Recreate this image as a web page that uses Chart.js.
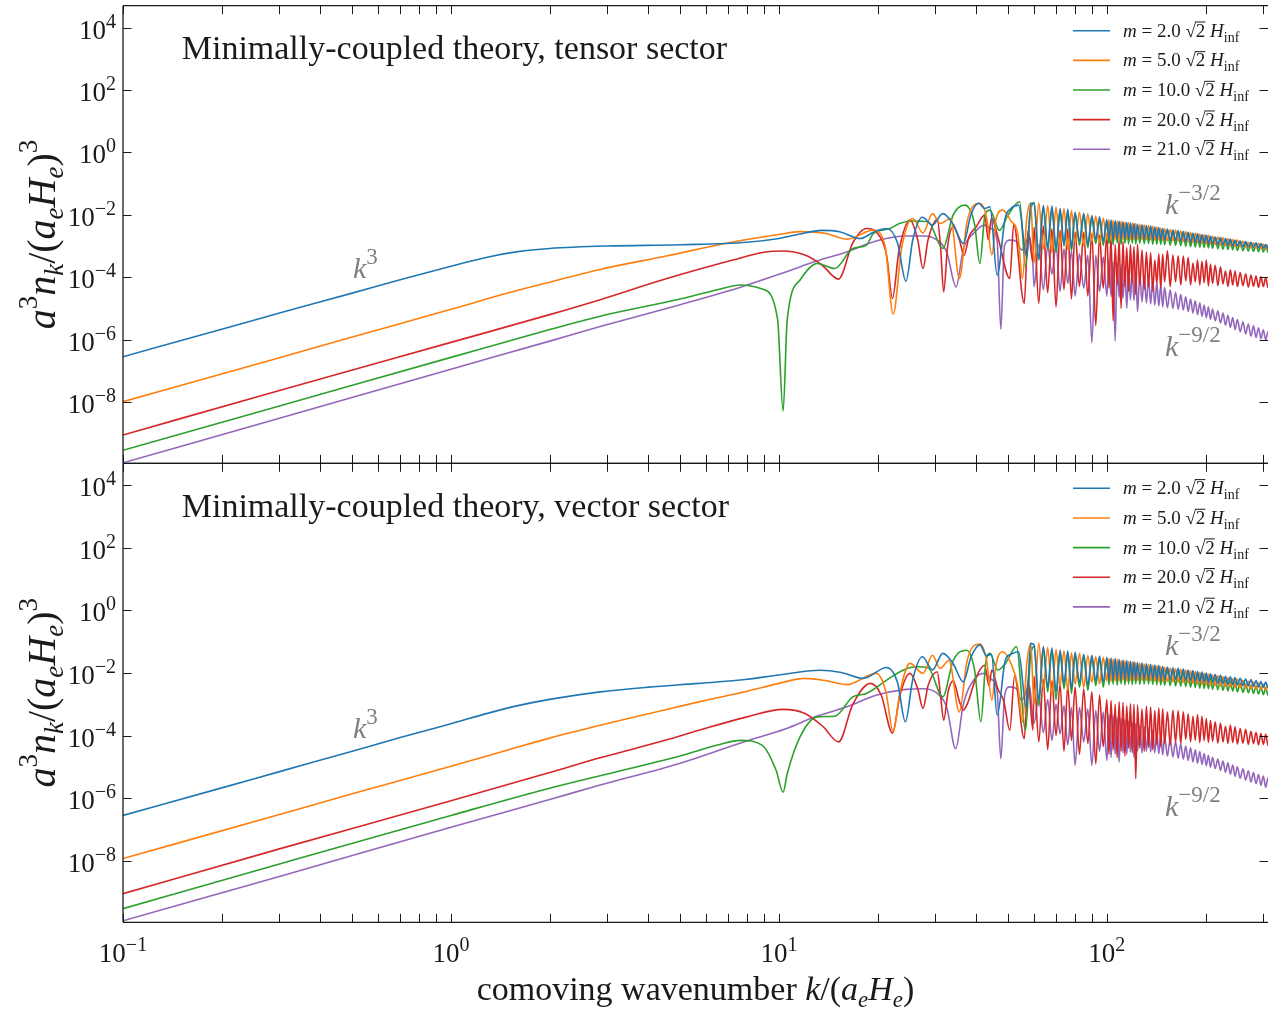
<!DOCTYPE html>
<html>
<head>
<meta charset="utf-8">
<script src="https://cdn.jsdelivr.net/npm/chart.js@4"></script>
<style>
  html, body { margin: 0; padding: 0; background: #fff; }
  #wrap { position: relative; width: 1268px; height: 1010px; }
  #wrap canvas { position: absolute; left: 0; top: 0; }
</style>
</head>
<body>
<div id="wrap">
  <canvas id="vec" width="1268" height="1010"></canvas>
  <canvas id="ten" width="1268" height="1010"></canvas>
</div>
<script>
// values: k, and log10 of a^3 n_k/(a_e H_e)^3
const masses = ['2.0', '5.0', '10.0', '20.0', '21.0'];
const colors = ['#1f77b4', '#ff7f0e', '#2ca02c', '#d62728', '#9467bd'];
const yTickExp = [-8, -6, -4, -2, 0, 2, 4];
const xTickExp = [-1, 0, 1, 2];

// tensor sector, smooth part + first oscillations  [k, log10 y]
const tLo0 = [[0.1,-6.55],[0.2,-5.67],[0.3,-5.15],[0.5,-4.51],[0.7,-4.08],[1,-3.65],[1.3,-3.35],[1.6,-3.18],[2,-3.08],[3,-3.0],[5,-2.96],[8,-2.88],[10,-2.76],[12,-2.58],[13.5,-2.5],[15.3,-2.54],[17.7,-2.76],[19.5,-2.55],[21.3,-2.44],[23,-2.9],[24.4,-4.13],[25.6,-2.8],[27.4,-2.08],[29.4,-2.33],[31.6,-1.96],[34,-2.3],[36.5,-2.92],[38.5,-2.0],[40.6,-1.63],[42.5,-1.8],[44,-1.74],[46.3,-3.93],[49,-2.1],[51,-1.8],[53.8,-1.69],[57,-3.35],[58.6,-1.63]];
const tLo1 = [[0.1,-7.99],[0.3,-6.58],[0.5,-5.92],[1,-5.03],[1.5,-4.5],[2,-4.16],[2.85,-3.75],[4.53,-3.32],[7.24,-2.87],[10,-2.63],[11.6,-2.54],[13.9,-2.6],[16.2,-2.78],[19.4,-2.49],[21.1,-3.03],[22.3,-5.19],[23.7,-3.03],[25.6,-2.12],[27.5,-2.58],[29.4,-1.96],[31,-2.28],[33.4,-2.12],[35.5,-4.04],[37.5,-2.2],[41,-1.63],[43,-2.1],[44.6,-3.29],[46,-2.1],[48.2,-1.85],[51,-2.2],[53.5,-2.6],[55.3,-4.04],[57,-2.1],[58.6,-1.63]];
const tLo2 = [[0.1,-9.55],[0.3,-8.13],[1,-6.57],[2,-5.68],[2.85,-5.25],[5,-4.7],[6.5,-4.4],[7.64,-4.25],[8.9,-4.38],[9.9,-5.32],[10.3,-8.29],[10.6,-5.37],[11.6,-4.09],[13.1,-3.56],[14.8,-3.72],[16.8,-3.08],[18.5,-2.97],[19.4,-2.6],[21.7,-2.45],[23.3,-2.28],[25.5,-2.2],[28.5,-2.22],[31.6,-3.08],[34,-2.0],[36.9,-1.69],[39.5,-2.3],[41,-3.56],[42.5,-2.0],[44,-1.85],[47,-2.5],[50,-2.0],[54.2,-1.58],[56.5,-3.67],[58.5,-1.9]];
const tLo3 = [[0.1,-9.06],[0.3,-7.63],[1,-6.09],[2,-5.2],[2.85,-4.72],[4.53,-4.05],[7.24,-3.45],[9,-3.2],[10.3,-3.16],[12,-3.29],[13.5,-3.6],[15.2,-4.06],[16.8,-2.9],[18.5,-2.44],[20,-2.6],[21.3,-3.3],[22.2,-4.68],[23.2,-3.2],[25.1,-2.17],[26.5,-2.8],[27.5,-3.72],[28.5,-2.8],[30.4,-2.15],[31.1,-3.0],[31.8,-4.47],[32.7,-3.0],[34,-2.38],[35.5,-2.8],[36.7,-3.3],[38,-2.7],[40,-2.38],[42.4,-2.01],[43.5,-2.8],[44.5,-2.1],[46.5,-2.7],[50.6,-4.04],[52,-2.3],[56,-4.84],[57.5,-2.5],[59.5,-3.5]];
const tLo4 = [[0.1,-9.95],[0.3,-8.52],[1,-6.95],[2,-6.05],[2.85,-5.58],[5,-4.88],[7.64,-4.32],[10.5,-3.83],[12.9,-3.5],[16.1,-3.19],[19.8,-2.84],[24.4,-2.68],[27.5,-2.68],[30.4,-2.81],[32.5,-3.2],[34.7,-4.31],[36.5,-3.1],[39.2,-2.6],[42.3,-2.33],[44.5,-2.45],[46.3,-2.85],[47.5,-5.67],[48.7,-3.0],[50.6,-2.81],[53,-2.85],[55,-3.13],[58.1,-2.7],[59.5,-3.6]];

// vector sector, smooth part + first oscillations  [k, log10 y]
const vLo0 = [[0.1,-6.55],[0.2,-5.67],[0.3,-5.15],[0.5,-4.5],[0.7,-4.06],[1,-3.62],[1.3,-3.28],[1.6,-3.04],[2,-2.84],[2.85,-2.6],[4,-2.45],[5.7,-2.33],[8,-2.2],[10,-2.06],[13.3,-1.91],[15.5,-1.98],[18.1,-2.17],[21.3,-1.82],[23,-2.3],[24.3,-3.56],[25.6,-2.2],[27.4,-1.48],[29.4,-1.9],[31.6,-1.37],[34,-1.7],[36.5,-2.28],[38.5,-1.5],[41,-1.1],[43,-1.45],[44.5,-1.4],[46.3,-3.35],[49,-1.6],[51,-1.4],[53.8,-1.32],[56.8,-3.1],[58.6,-1.05]];
const vLo1 = [[0.1,-7.93],[0.3,-6.52],[0.5,-5.86],[1,-4.98],[1.5,-4.45],[2,-4.08],[2.85,-3.67],[4,-3.3],[5.7,-2.92],[8,-2.58],[10,-2.33],[12,-2.17],[14,-2.25],[16.1,-2.37],[19.8,-2.01],[21.2,-2.6],[22.3,-3.88],[23.4,-2.6],[25.1,-1.69],[27.5,-2.01],[29.4,-1.43],[31,-1.85],[33,-1.6],[35.5,-3.24],[37.5,-1.6],[41,-1.07],[43,-1.6],[44.6,-2.87],[46,-1.7],[48.2,-1.32],[51,-1.7],[53.5,-2.4],[55.3,-3.56],[57,-1.7],[58.6,-1.05]];
const vLo2 = [[0.1,-9.53],[0.3,-8.1],[1,-6.55],[2,-5.68],[2.85,-5.28],[5,-4.65],[6.5,-4.3],[7.64,-4.15],[8.9,-4.31],[9.8,-5.1],[10.3,-5.81],[10.6,-5.22],[11.6,-4.04],[13.1,-3.4],[14.8,-3.38],[16.8,-2.76],[18.5,-2.65],[21.7,-2.17],[24,-1.9],[26.3,-1.8],[28.5,-1.83],[31.6,-2.76],[34,-1.6],[37.3,-1.27],[39.5,-1.9],[41.3,-3.56],[42.7,-1.7],[44,-1.37],[46.5,-1.9],[49,-1.7],[53,-1.16],[56.5,-3.83],[58.5,-1.5]];
const vLo3 = [[0.1,-9.05],[0.3,-7.62],[1,-6.08],[2,-5.18],[2.85,-4.71],[4.5,-4.15],[5.7,-3.83],[8,-3.4],[10.3,-3.16],[12,-3.29],[13.6,-3.7],[15.2,-4.2],[16.8,-3.0],[19,-2.33],[20.5,-2.7],[22.2,-3.92],[23.4,-2.7],[25.1,-2.01],[26.5,-2.5],[27.5,-3.13],[28.5,-2.4],[30.4,-1.96],[31.1,-2.7],[31.8,-3.51],[32.8,-2.6],[34,-2.25],[35.5,-2.9],[36.5,-3.19],[37.5,-3.0],[40,-2.12],[42.4,-1.75],[43.7,-2.4],[44.6,-1.9],[46.5,-2.5],[48.5,-2.9],[50.6,-3.83],[52.3,-2.1],[56,-4.1],[57.5,-2.2],[59.5,-3.83]];
const vLo4 = [[0.1,-9.92],[0.3,-8.5],[1,-6.93],[2,-6.04],[2.85,-5.58],[5,-4.88],[7.8,-4.2],[10.5,-3.78],[12.9,-3.4],[16.1,-3.08],[19.8,-2.71],[24.4,-2.52],[27.5,-2.5],[30.4,-2.65],[32.5,-3.1],[34.6,-4.42],[36.5,-3.0],[40,-2.12],[42.3,-2.01],[44.5,-2.2],[46.3,-2.6],[47.5,-4.74],[48.8,-2.7],[50.6,-2.44],[53,-2.5],[55,-2.87],[58.1,-2.4],[59.5,-3.51]];

// dense oscillation region: k samples, then alternating crests / troughs (log10 y)
const kHi = [60,62,64,66,68,70,72,74,76,78,80,82.5,85,87.5,90,92.5,95,97.5,
  100,101.5,103,104.5,106,107.5,109,110.5,112,113.5,115,116.5,118,119.5,121,122.5,124,
  126,128,130,132,134,136,138,140,142,144,146,148,150,
  153,156,159,162,165,168,171,174,177,180,183,186,189,192,195,198,201,204,207,210,
  214,218,222,226,230,234,238,242,246,250,
  255,260,265,270,275,280,285,290,295,300,305,310,315];

const tHi0 = [-1.65,-3.40,-1.70,-3.05,-1.72,-3.10,-1.80,-2.95,-1.82,-3.05,-1.92,-2.85,-1.95,-2.95,-2.02,-2.80,-2.06,-2.85,
  -2.15,-2.75,-2.17,-2.80,-2.19,-2.74,-2.21,-2.78,-2.23,-2.75,-2.25,-2.77,-2.26,-2.74,-2.28,-2.78,-2.30,-2.75,-2.32,-2.77,-2.34,-2.76,-2.36,-2.78,-2.39,-2.78,-2.41,-2.80,-2.44,-2.80,
  -2.46,-2.82,-2.49,-2.82,-2.51,-2.84,-2.54,-2.85,-2.56,-2.87,-2.59,-2.88,-2.61,-2.90,-2.64,-2.90,-2.66,-2.92,-2.69,-2.93,
  -2.71,-2.95,-2.73,-2.96,-2.76,-2.98,-2.78,-2.99,-2.81,-3.00,
  -2.83,-3.02,-2.86,-3.03,-2.88,-3.04,-2.90,-3.06,-2.92,-3.07,-2.95,-3.09,-2.97];
const tHi1 = [-3.55,-1.62,-3.10,-1.70,-3.20,-1.76,-2.98,-1.80,-3.10,-1.86,-2.90,-1.92,-3.00,-1.97,-2.85,-2.04,-2.90,-2.10,
  -2.80,-2.16,-2.82,-2.18,-2.79,-2.20,-2.81,-2.21,-2.78,-2.23,-2.80,-2.25,-2.78,-2.27,-2.80,-2.28,-2.78,-2.30,-2.80,-2.32,-2.79,-2.34,-2.80,-2.37,-2.81,-2.39,-2.81,-2.42,-2.82,-2.44,
  -2.83,-2.47,-2.83,-2.49,-2.84,-2.52,-2.85,-2.54,-2.86,-2.57,-2.88,-2.59,-2.89,-2.62,-2.91,-2.64,-2.92,-2.66,-2.93,-2.69,
  -2.95,-2.71,-2.97,-2.74,-2.98,-2.76,-2.99,-2.79,-3.01,-2.81,
  -3.02,-2.84,-3.04,-2.88,-3.06,-2.90,-3.07,-2.92,-3.09,-2.94,-3.10,-2.96,-3.12];
const tHi2 = [-1.60,-3.45,-1.75,-3.10,-1.80,-3.20,-1.88,-3.00,-1.93,-3.15,-1.98,-2.98,-2.05,-3.05,-2.12,-2.92,-2.17,-2.98,
  -2.25,-2.92,-2.26,-2.96,-2.28,-2.90,-2.29,-2.95,-2.31,-2.91,-2.32,-2.94,-2.34,-2.91,-2.35,-2.94,-2.36,-2.91,-2.38,-2.93,-2.39,-2.92,-2.41,-2.94,-2.44,-2.94,-2.47,-2.95,-2.49,-2.96,
  -2.52,-2.97,-2.55,-2.98,-2.57,-2.99,-2.60,-3.01,-2.62,-3.02,-2.65,-3.03,-2.67,-3.04,-2.69,-3.05,-2.72,-3.06,-2.74,-3.07,
  -2.76,-3.09,-2.79,-3.10,-2.81,-3.11,-2.84,-3.12,-2.86,-3.14,
  -2.89,-3.15,-2.91,-3.16,-2.94,-3.17,-2.96,-3.18,-2.98,-3.19,-3.00,-3.20,-3.02];
const tHi3 = [-2.40,-4.84,-2.35,-4.50,-2.45,-4.95,-2.50,-4.40,-2.45,-4.70,-2.55,-4.30,-2.55,-4.60,-2.60,-5.55,-2.65,-4.35,
  -2.62,-4.35,-2.68,-5.40,-2.95,-4.25,-2.79,-5.00,-2.85,-4.30,-3.05,-4.45,-2.96,-4.20,-3.02,-4.55,-2.95,-4.25,-3.13,-4.40,-3.19,-4.30,-3.22,-4.45,-3.45,-4.20,-3.25,-4.35,-3.26,-4.15,
  -3.15,-4.30,-3.29,-4.15,-3.31,-4.25,-3.32,-4.12,-3.36,-4.25,-3.55,-4.15,-3.45,-4.25,-3.49,-4.18,-3.45,-4.28,-3.58,-4.20,
  -3.62,-4.27,-3.67,-4.22,-3.80,-4.30,-3.76,-4.25,-3.80,-4.30,
  -3.85,-4.27,-3.89,-4.32,-3.93,-4.29,-3.96,-4.33,-3.99,-4.30,-4.01,-4.33,-4.04];
const tHi4 = [-4.30,-2.95,-4.40,-3.00,-3.90,-2.95,-4.45,-3.10,-4.20,-3.15,-4.60,-3.25,-4.35,-3.30,-6.10,-3.30,-4.45,-3.35,
  -4.60,-3.43,-4.62,-3.49,-6.05,-3.54,-4.65,-3.60,-4.68,-3.66,-5.00,-3.71,-4.72,-3.77,-4.75,-3.83,-5.10,-3.89,-4.80,-3.94,-4.83,-4.00,-4.86,-4.08,-4.90,-4.16,-4.93,-4.24,-4.95,-4.32,
  -4.98,-4.40,-5.00,-4.48,-5.03,-4.56,-5.05,-4.63,-5.10,-4.70,-5.15,-4.76,-5.20,-4.82,-5.25,-4.89,-5.30,-4.95,-5.35,-5.02,
  -5.40,-5.08,-5.47,-5.15,-5.54,-5.22,-5.61,-5.29,-5.68,-5.36,
  -5.75,-5.43,-5.82,-5.50,-5.89,-5.56,-5.93,-5.62,-5.97,-5.69,-6.01,-5.75,-6.05];

const vHi0 = [-1.10,-2.85,-1.15,-2.45,-1.20,-2.60,-1.27,-2.35,-1.30,-2.50,-1.34,-2.30,-1.40,-2.40,-1.43,-2.25,-1.46,-2.30,
  -1.50,-2.20,-1.52,-2.22,-1.54,-2.19,-1.56,-2.21,-1.58,-2.18,-1.60,-2.20,-1.62,-2.17,-1.64,-2.19,-1.66,-2.17,-1.68,-2.18,-1.70,-2.17,-1.72,-2.18,-1.74,-2.19,-1.76,-2.19,-1.79,-2.20,
  -1.81,-2.21,-1.83,-2.21,-1.85,-2.22,-1.87,-2.23,-1.90,-2.24,-1.92,-2.26,-1.95,-2.27,-1.97,-2.28,-2.00,-2.30,-2.02,-2.31,
  -2.05,-2.33,-2.07,-2.34,-2.10,-2.36,-2.12,-2.37,-2.14,-2.38,
  -2.17,-2.40,-2.19,-2.41,-2.21,-2.43,-2.24,-2.44,-2.27,-2.46,-2.29,-2.47,-2.32];
const vHi1 = [-3.00,-1.05,-2.50,-1.18,-2.70,-1.25,-2.40,-1.30,-2.55,-1.35,-2.35,-1.38,-2.45,-1.44,-2.30,-1.47,-2.35,-1.50,
  -2.25,-1.53,-2.27,-1.55,-2.24,-1.57,-2.26,-1.59,-2.23,-1.61,-2.25,-1.63,-2.23,-1.65,-2.24,-1.67,-2.23,-1.69,-2.24,-1.71,-2.23,-1.73,-2.24,-1.75,-2.25,-1.77,-2.26,-1.79,-2.27,-1.81,
  -2.27,-1.84,-2.28,-1.86,-2.29,-1.88,-2.30,-1.90,-2.31,-1.93,-2.33,-1.95,-2.34,-1.98,-2.36,-2.01,-2.37,-2.04,-2.39,-2.06,
  -2.40,-2.09,-2.41,-2.12,-2.43,-2.15,-2.44,-2.18,-2.45,-2.20,
  -2.47,-2.23,-2.48,-2.26,-2.50,-2.29,-2.51,-2.32,-2.53,-2.35,-2.54,-2.38,-2.56];
const vHi2 = [-1.15,-3.05,-1.22,-2.60,-1.28,-2.85,-1.34,-2.50,-1.38,-2.65,-1.42,-2.45,-1.48,-2.55,-1.52,-2.40,-1.56,-2.45,
  -1.60,-2.38,-1.62,-2.36,-1.64,-2.39,-1.66,-2.35,-1.68,-2.38,-1.70,-2.35,-1.71,-2.37,-1.73,-2.35,-1.75,-2.36,-1.77,-2.35,-1.79,-2.35,-1.81,-2.36,-1.84,-2.37,-1.86,-2.38,-1.88,-2.39,
  -1.91,-2.40,-1.93,-2.41,-1.96,-2.42,-1.98,-2.43,-2.01,-2.45,-2.03,-2.46,-2.06,-2.48,-2.09,-2.49,-2.12,-2.50,-2.14,-2.52,
  -2.17,-2.53,-2.20,-2.55,-2.23,-2.57,-2.26,-2.58,-2.29,-2.60,
  -2.32,-2.62,-2.35,-2.63,-2.39,-2.65,-2.42,-2.67,-2.45,-2.69,-2.47,-2.71,-2.50];
const vHi3 = [-2.10,-4.20,-2.20,-4.45,-2.25,-4.00,-2.35,-4.50,-2.40,-4.15,-2.45,-4.60,-2.50,-4.25,-2.60,-4.90,-2.70,-4.35,
  -2.85,-4.60,-2.88,-4.45,-3.00,-4.70,-2.92,-4.50,-2.94,-4.65,-3.05,-4.40,-2.98,-4.55,-3.00,-5.38,-3.02,-4.40,-3.15,-4.50,-3.06,-4.37,-3.09,-4.45,-3.20,-4.30,-3.12,-4.35,-3.14,-4.25,
  -3.25,-4.30,-3.19,-4.20,-3.21,-4.25,-3.24,-4.12,-3.30,-4.20,-3.38,-4.15,-3.33,-4.22,-3.38,-4.16,-3.45,-4.22,-3.51,-4.18,
  -3.56,-4.24,-3.60,-4.20,-3.70,-4.25,-3.66,-4.22,-3.72,-4.27,
  -3.77,-4.24,-3.80,-4.28,-3.86,-4.26,-3.89,-4.30,-3.93,-4.28,-3.96,-4.31,-3.99];
const vHi4 = [-3.60,-2.70,-3.90,-2.85,-4.15,-3.00,-3.95,-3.05,-4.30,-3.10,-4.95,-3.10,-4.20,-3.15,-4.95,-3.20,-4.50,-3.25,
  -4.79,-3.32,-4.70,-3.36,-4.60,-3.41,-4.85,-3.45,-4.55,-3.49,-4.60,-3.54,-4.52,-3.58,-4.70,-3.62,-4.50,-3.66,-4.55,-3.71,-4.50,-3.75,-4.52,-3.82,-4.55,-3.90,-4.58,-3.97,-4.62,-4.04,
  -4.65,-4.12,-4.68,-4.19,-4.72,-4.26,-4.75,-4.33,-4.79,-4.39,-4.84,-4.45,-4.88,-4.51,-4.92,-4.57,-4.96,-4.63,-5.01,-4.69,
  -5.05,-4.75,-5.11,-4.81,-5.17,-4.87,-5.23,-4.94,-5.30,-5.00,
  -5.36,-5.06,-5.42,-5.12,-5.48,-5.18,-5.54,-5.24,-5.59,-5.29,-5.65,-5.35,-5.70];

const FONT = "'Liberation Serif','DejaVu Serif',serif";

function series(lo, hi) {
  const pts = lo.map(p => ({ x: p[0], y: Math.pow(10, p[1]) }));
  hi.forEach((v, i) => pts.push({ x: kHi[i], y: Math.pow(10, v) }));
  return pts;
}

// text run: t, size, italic, dy, overline
function R(t, s, i, dy, over) { return { t, s, i: !!i, dy: dy || 0, over: !!over }; }

function setFont(ctx, s, i) { ctx.font = (i ? 'italic ' : '') + s + 'px ' + FONT; }

function drawRuns(ctx, x, y, parts, align) {
  let w = 0;
  for (const p of parts) { setFont(ctx, p.s, p.i); w += ctx.measureText(p.t).width; }
  let cx = align === 'right' ? x - w : align === 'center' ? x - w / 2 : x;
  for (const p of parts) {
    setFont(ctx, p.s, p.i);
    const tw = ctx.measureText(p.t).width;
    ctx.fillText(p.t, cx, y + p.dy);
    if (p.over) ctx.fillRect(cx - 1, y + p.dy - p.s * 0.8, tw + 1, 1);
    cx += tw;
  }
  return w;
}

function powLabel(e, s) {
  return [R('10', s), R(e < 0 ? '\u2212' + (-e) : String(e), Math.round(s * 0.74), false, -Math.round(s * 0.42))];
}

function kNote(exp) {
  return [R('k', 30, true), R(exp, 23, false, -14)];
}

const decor = {
  id: 'decor',
  afterDraw(chart, args, o) {
    const ctx = chart.ctx, a = chart.chartArea, xs = chart.scales.x, ys = chart.scales.y;
    ctx.save();
    ctx.strokeStyle = '#1a1a1a';
    ctx.fillStyle = '#1a1a1a';
    ctx.lineWidth = 1.3;
    ctx.beginPath();
    ctx.moveTo(a.left, a.top); ctx.lineTo(a.right, a.top);
    ctx.moveTo(a.left, a.bottom); ctx.lineTo(a.right, a.bottom);
    ctx.moveTo(a.left, a.top); ctx.lineTo(a.left, a.bottom);
    ctx.stroke();

    // inward ticks
    ctx.lineWidth = 1;
    ctx.beginPath();
    xTickExp.forEach(e => {
      for (let m = 1; m < 10; m++) {
        const v = m * Math.pow(10, e);
        if (v > xs.max) continue;
        const px = Math.round(xs.getPixelForValue(v)) + 0.5;
        ctx.moveTo(px, a.top); ctx.lineTo(px, a.top + 8.5);
        ctx.moveTo(px, a.bottom); ctx.lineTo(px, a.bottom - 8.5);
      }
    });
    yTickExp.forEach(e => {
      const py = Math.round(ys.getPixelForValue(Math.pow(10, e))) + 0.5;
      ctx.moveTo(a.left, py); ctx.lineTo(a.left + 8.5, py);
      ctx.moveTo(a.right, py); ctx.lineTo(a.right - 8.5, py);
    });
    ctx.stroke();

    // y tick labels
    ctx.textBaseline = 'alphabetic';
    yTickExp.forEach(e => {
      const py = ys.getPixelForValue(Math.pow(10, e));
      drawRuns(ctx, 116, py + 11, powLabel(e, 27), 'right');
    });

    // x tick labels + x title (lower panel only)
    if (o.xlabels) {
      xTickExp.forEach(e => {
        drawRuns(ctx, xs.getPixelForValue(Math.pow(10, e)), 962, powLabel(e, 27), 'center');
      });
      drawRuns(ctx, (a.left + a.right) / 2, 1000, [
        R('comoving wavenumber ', 34), R('k', 34, true), R('/(', 34), R('a', 34, true),
        R('e', 23, true, 7), R('H', 34, true), R('e', 23, true, 7), R(')', 34)
      ], 'center');
    }

    // y title
    ctx.save();
    ctx.translate(55, (a.top + a.bottom) / 2);
    ctx.rotate(-Math.PI / 2);
    drawRuns(ctx, 0, 0, [
      R('a', 40, true), R('3', 27, false, -18), R('n', 40, true), R('k', 27, true, 8),
      R('/(', 40), R('a', 40, true), R('e', 27, true, 8), R('H', 40, true),
      R('e', 27, true, 8), R(')', 40), R('3', 27, false, -18)
    ], 'center');
    ctx.restore();

    // panel title
    drawRuns(ctx, 181.7, a.top + 53.6, [R(o.title, 34)], 'left');

    // slope notes
    ctx.fillStyle = '#808080';
    drawRuns(ctx, 353, o.notes[0], kNote('3'), 'left');
    drawRuns(ctx, 1165, o.notes[1], kNote('\u22123/2'), 'left');
    drawRuns(ctx, 1165, o.notes[2], kNote('\u22129/2'), 'left');

    // legend
    masses.forEach((m, i) => {
      const ly = a.top + 25 + i * 29.65;
      ctx.strokeStyle = colors[i];
      ctx.lineWidth = 1.6;
      ctx.beginPath(); ctx.moveTo(1073, ly); ctx.lineTo(1110, ly); ctx.stroke();
      ctx.fillStyle = '#1a1a1a';
      drawRuns(ctx, 1123, ly + 6, [
        R('m', 19, true), R(' = ' + m + ' ', 19), R('\u221A', 19), R('2', 19, false, 0, true),
        R(' ', 19), R('H', 19, true), R('inf', 14, false, 5)
      ], 'left');
    });
    ctx.restore();
  }
};

function makeChart(id, los, his, pad, opts) {
  return new Chart(document.getElementById(id), {
    type: 'line',
    data: {
      datasets: los.map((lo, i) => ({
        label: 'm = ' + masses[i] + ' \u221A2 H_inf',
        data: series(lo, his[i]),
        borderColor: colors[i],
        borderWidth: 1.6,
        borderJoinStyle: 'round',
        pointRadius: 0,
        fill: false,
        cubicInterpolationMode: 'monotone'
      }))
    },
    options: {
      responsive: false,
      animation: false,
      devicePixelRatio: 1,
      events: [],
      layout: { padding: pad },
      scales: {
        x: { type: 'logarithmic', min: 0.1, max: 310, display: false },
        y: { type: 'logarithmic', min: 1.08e-10, max: 5.07e4, display: false }
      },
      plugins: { legend: { display: false }, tooltip: { enabled: false }, decor: opts }
    },
    plugins: [decor]
  });
}

makeChart('ten', [tLo0, tLo1, tLo2, tLo3, tLo4], [tHi0, tHi1, tHi2, tHi3, tHi4],
  { left: 123, right: 0, top: 5.7, bottom: 1010 - 463.3 },
  { title: 'Minimally-coupled theory, tensor sector', notes: [278, 214, 356], xlabels: false });

makeChart('vec', [vLo0, vLo1, vLo2, vLo3, vLo4], [vHi0, vHi1, vHi2, vHi3, vHi4],
  { left: 123, right: 0, top: 463.3, bottom: 1010 - 922.3 },
  { title: 'Minimally-coupled theory, vector sector', notes: [738, 655, 815.5], xlabels: true });
</script>
</body>
</html>
